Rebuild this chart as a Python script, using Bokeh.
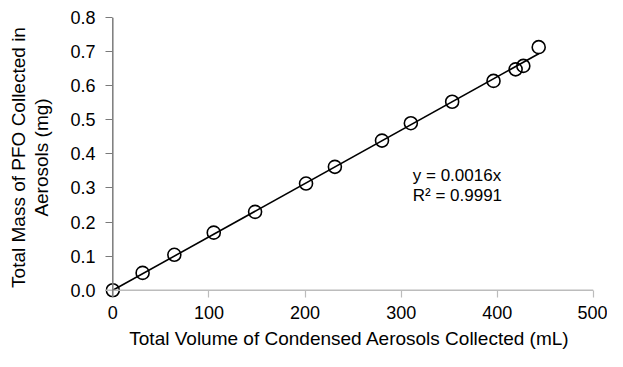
import numpy as np
from bokeh.plotting import figure
from bokeh.models import (Range1d, FixedTicker, PrintfTickFormatter, Label, ColumnDataSource,
                          Span, LinearAxis)
from bokeh.embed import file_html
from bokeh.resources import INLINE

# Data
volume_ml = [0, 31, 64, 105, 148, 201, 231, 280, 310, 353, 396, 419, 427, 443]
mass_mg = [0.000, 0.051, 0.104, 0.169, 0.230, 0.313, 0.362, 0.439, 0.490, 0.553, 0.614, 0.648, 0.658, 0.713]
x_ticks = [0, 100, 200, 300, 400, 500]
y_ticks = [0.0, 0.1, 0.2, 0.3, 0.4, 0.5, 0.6, 0.7, 0.8]
eq_text = "y = 0.0016x"
r2_text = "R\u00b2 = 0.9991"
x_title = "Total Volume of Condensed Aerosols Collected (mL)"
y_title_lines = ["Total Mass of PFO Collected in", "Aerosols (mg)"]

x_arr = np.array(volume_ml, dtype=float)
y_arr = np.array(mass_mg, dtype=float)
slope = float((x_arr * y_arr).sum() / (x_arr * x_arr).sum())
trend_x = [0.0, float(x_arr.max())]
trend_y = [slope * v for v in trend_x]

FONT = "Liberation Sans"

p = figure(width=607, height=351, output_backend="svg", toolbar_location=None,
           x_range=Range1d(-7.6, 500), y_range=Range1d(-0.0212, 0.8),
           min_border_left=105, min_border_right=14, min_border_top=17, min_border_bottom=52)
p.outline_line_color = None
p.xgrid.visible = False
p.ygrid.visible = False
p.background_fill_color = "white"
p.border_fill_color = "white"

p.line(trend_x, trend_y, line_color="black", line_width=1.6)
src = ColumnDataSource(dict(x=volume_ml, y=mass_mg))
p.scatter("x", "y", source=src, size=13, marker="circle", fill_color=None,
          line_color="black", line_width=1.6)

XCOL = "#bcbcbc"
YCOL = "#7a7a7a"

# axis lines at the origin
p.add_layout(Span(location=0, dimension="width", line_color=XCOL, line_width=1.5))
p.add_layout(Span(location=0, dimension="height", line_color=YCOL, line_width=1.5))

for ax, col in ((p.xaxis, XCOL), (p.yaxis, YCOL)):
    ax.axis_line_color = None
    ax.major_tick_line_color = col
    ax.major_tick_line_width = 1.2
    ax.minor_tick_line_color = None
    ax.major_tick_in = 7
    ax.major_tick_out = 0
    ax.major_label_text_font = FONT
    ax.major_label_text_font_size = "18px"
    ax.major_label_text_color = "black"
    ax.axis_label_text_font = FONT
    ax.axis_label_text_font_size = "19px"
    ax.axis_label_text_font_style = "normal"
    ax.axis_label_text_color = "black"

p.xaxis.ticker = FixedTicker(ticks=x_ticks)
p.xaxis.major_label_standoff = 8
p.xaxis.axis_label = x_title
p.xaxis.axis_label_standoff = 6

p.yaxis.ticker = FixedTicker(ticks=y_ticks)
p.yaxis.formatter = PrintfTickFormatter(format="%.1f")
p.yaxis.major_label_standoff = 10
p.yaxis.axis_label = y_title_lines[1]
p.yaxis.axis_label_standoff = 15

# outer title line as a tick-less axis
outer = LinearAxis(ticker=FixedTicker(ticks=[]), axis_label=y_title_lines[0],
                   axis_line_color=None, major_tick_line_color=None, minor_tick_line_color=None,
                   major_tick_in=0, major_tick_out=0, major_label_standoff=0,
                   axis_label_standoff=0, axis_label_text_font=FONT,
                   axis_label_text_font_size="19px", axis_label_text_font_style="normal",
                   axis_label_text_color="black")
p.add_layout(outer, "left")

# trendline annotation
p.add_layout(Label(x=312, y=0.337, text=eq_text, text_font=FONT, text_font_size="17px",
                   text_baseline="middle", text_color="black"))
p.add_layout(Label(x=312, y=0.279, text=r2_text, text_font=FONT, text_font_size="17px",
                   text_baseline="middle", text_color="black"))

open("out.html", "w").write(file_html(p, INLINE))
